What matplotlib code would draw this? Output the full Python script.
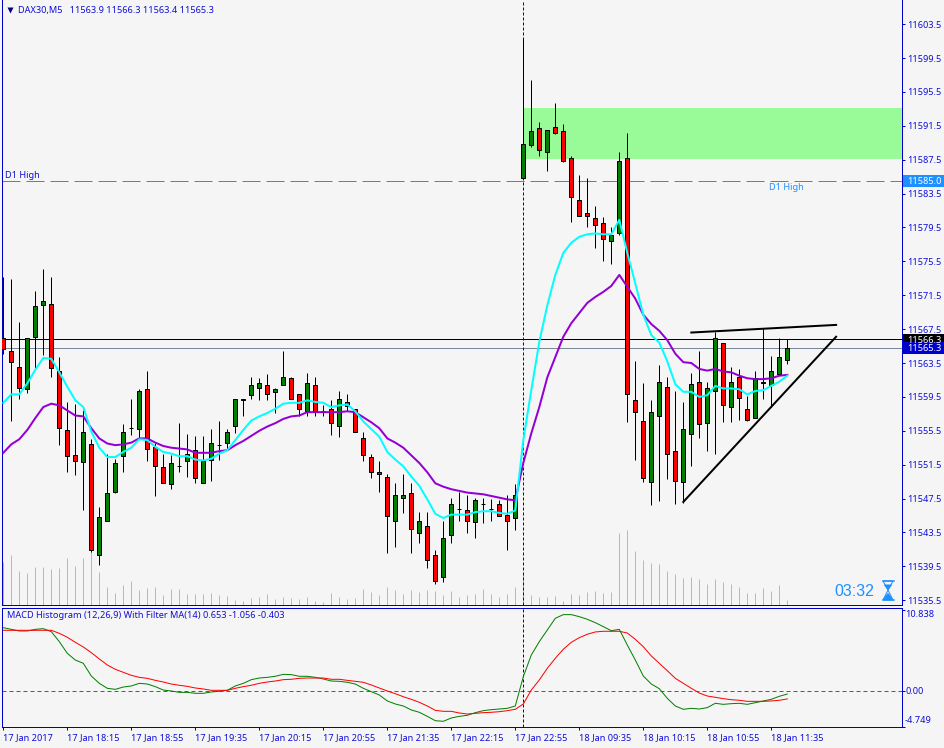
import matplotlib
matplotlib.use("Agg")
import matplotlib.pyplot as plt
from matplotlib import font_manager as fm
from matplotlib.ft2font import FT2Font
from matplotlib.patches import Rectangle, Polygon
from matplotlib.lines import Line2D

opens = [11566.4,11564.9,11563.0,11560.4,11566.6,11570.4,11570.5,11562.5,11555.6,11552.6,
11551.8,11553.9,11540.8,11544.9,11548.3,11552.5,11555.8,11555.7,11560.4,11553.6,
11551.2,11549.2,11551.3,11551.9,11553.2,11549.3,11552.1,11553.8,11554.1,11556.1,
11559.1,11559.7,11560.6,11560.9,11560.1,11560.9,11561.7,11559.8,11557.8,11560.9,
11557.8,11558.1,11556.1,11558.9,11558.1,11554.6,11552.4,11550.4,11550.1,11544.8,
11547.6,11548.1,11543.4,11544.3,11540.8,11538.2,11543.2,11546.3,11546.1,11544.7,
11546.8,11546.3,11546.8,11545.6,11545.2,11585.3,11589.2,11591.3,11588.4,11591.4,
11590.9,11587.7,11582.8,11581.2,11580.6,11580.0,11577.9,11578.8,11587.7,11559.1,
11556.7,11549.4,11557.3,11560.7,11553.1,11549.4,11555.1,11561.2,11556.4,11560.2,
11565.9,11558.3,11561.9,11558.1,11557.0,11561.3,11560.9,11562.2,11563.9]
closes = [11565.1,11563.6,11560.5,11566.4,11570.2,11570.8,11562.9,11555.8,11552.5,11551.9,
11555.4,11541.4,11545.3,11548.1,11551.7,11555.4,11555.8,11560.2,11553.3,11551.3,
11549.3,11551.7,11551.3,11552.8,11549.9,11551.9,11554.1,11553.8,11555.3,11559.3,
11559.3,11560.9,11561.1,11559.8,11560.4,11561.8,11559.3,11558.1,11561.1,11557.8,
11557.8,11556.4,11559.3,11558.4,11555.3,11552.6,11550.6,11550.6,11545.4,11547.9,
11547.9,11543.9,11544.8,11540.3,11537.8,11542.8,11546.8,11546.3,11544.8,11547.3,
11546.8,11546.3,11545.4,11544.8,11547.9,11589.4,11590.9,11588.7,11591.0,11590.6,
11587.4,11583.1,11580.9,11580.9,11579.8,11578.1,11578.6,11587.4,11559.8,11557.7,
11549.9,11557.7,11561.2,11552.8,11549.6,11555.7,11561.0,11556.3,11560.6,11566.4,
11558.5,11561.2,11559.4,11556.8,11561.7,11561.1,11562.6,11564.2,11565.3]
highs = [11573.7,11573.4,11568.3,11566.4,11572.0,11574.6,11573.7,11564.2,11558.9,11558.7,
11558.0,11554.5,11546.5,11552.7,11552.2,11556.3,11559.3,11560.4,11562.6,11554.1,
11552.8,11552.6,11556.4,11555.1,11554.9,11554.9,11555.7,11556.6,11555.7,11559.3,
11559.3,11561.8,11561.7,11562.2,11560.6,11564.9,11561.8,11559.8,11562.3,11561.8,
11558.5,11559.1,11560.2,11559.8,11558.1,11555.3,11552.8,11551.9,11550.4,11549.3,
11550.4,11549.3,11545.9,11545.9,11541.4,11544.8,11547.6,11548.3,11547.9,11547.6,
11547.6,11547.5,11547.3,11547.9,11549.2,11601.9,11596.9,11591.9,11591.0,11594.2,
11591.7,11587.9,11585.7,11585.3,11582.0,11580.7,11579.6,11588.4,11590.7,11563.7,
11561.1,11559.1,11563.3,11561.9,11560.2,11558.9,11562.3,11564.9,11561.2,11567.2,
11565.9,11563.0,11562.8,11559.6,11562.5,11567.6,11564.3,11566.4,11566.3]
lows = [11564.6,11556.6,11559.2,11560.0,11562.9,11564.4,11561.9,11553.8,11550.6,11550.3,
11546.1,11541.2,11539.7,11544.9,11548.1,11550.6,11555.0,11554.7,11551.9,11547.8,
11549.3,11548.6,11550.6,11550.0,11549.3,11549.3,11549.6,11552.1,11553.4,11555.2,
11557.3,11559.3,11559.1,11559.1,11557.6,11560.9,11559.3,11557.2,11557.3,11557.2,
11557.2,11555.0,11554.8,11557.8,11555.3,11551.9,11549.9,11548.3,11541.1,11541.8,
11545.8,11541.1,11542.3,11539.3,11537.4,11537.7,11542.3,11544.8,11543.4,11542.8,
11544.6,11544.8,11545.4,11541.4,11543.8,11585.3,11589.0,11587.9,11586.2,11590.5,
11587.2,11580.1,11580.9,11579.6,11577.1,11575.5,11575.2,11578.6,11556.5,11552.1,
11549.5,11546.7,11547.2,11549.8,11546.9,11547.0,11551.4,11554.7,11553.1,11552.7,
11556.5,11556.5,11556.8,11556.6,11557.0,11559.3,11558.3,11562.2,11563.4]
volumes = [43,50,34,32,38,38,36,37,47,39,47,55,33,18,12,20,24,15,17,18,10,16,16,11,11,11,12,10,9,5,4,7,8,11,
6,8,7,6,8,4,3,12,8,6,7,16,13,10,18,15,11,15,13,15,14,10,14,8,10,11,16,11,8,11,18,33,
10,8,8,9,4,11,10,13,14,12,13,
72,75,54,45,42,41,34,31,27,28,26,21,26,23,21,18,12,12,17,14,20,5]
ma_fast = [11558.8,11559.8,11559.8,11561.1,11562.7,11564.1,11564.0,11562.4,11560.7,11559.1,
11558.3,11555.4,11553.5,11552.4,11552.4,11553.0,11553.5,11554.5,11554.4,11553.6,
11553.0,11552.8,11552.5,11552.5,11552.1,11552.0,11552.2,11552.8,11553.2,11554.4,
11555.6,11556.7,11557.2,11557.6,11558.1,11558.7,11558.8,11558.8,11559.1,11558.9,
11558.8,11558.3,11558.5,11558.6,11557.8,11556.6,11555.7,11554.8,11553.0,11552.1,
11551.3,11550.1,11549.0,11547.4,11545.7,11545.2,11545.6,11545.6,11545.6,11545.9,
11546.0,11546.0,11545.8,11545.7,11546.1,11554.4,11560.3,11566.0,11570.3,11573.9,
11576.5,11577.7,11578.4,11578.7,11578.8,11578.7,11578.7,11580.4,11576.5,11572.9,
11569.2,11566.8,11565.9,11563.7,11561.0,11560.1,11560.1,11559.5,11559.7,11560.8,
11560.5,11560.5,11560.4,11559.8,11560.2,11560.3,11560.8,11561.3,11562.0]
ma_slow = [11552.9,11553.9,11554.5,11555.6,11557.0,11558.3,11558.7,11558.5,11557.9,11557.3,
11557.2,11555.8,11554.6,11554.0,11553.8,11553.9,11554.1,11554.6,11554.6,11554.1,
11553.7,11553.5,11553.4,11553.3,11552.9,11552.9,11552.9,11553.1,11553.2,11553.8,
11554.3,11554.9,11555.5,11556.0,11556.4,11556.9,11557.2,11557.3,11557.7,11557.7,
11557.7,11557.7,11557.7,11557.8,11557.7,11557.1,11556.5,11555.8,11554.6,11554.1,
11553.5,11552.6,11551.7,11550.6,11549.3,11548.9,11548.6,11548.4,11548.2,11548.1,
11548.0,11547.8,11547.6,11547.4,11547.3,11551.7,11555.2,11558.3,11561.8,11564.2,
11566.6,11568.2,11569.4,11570.6,11571.3,11571.9,11572.6,11573.9,11572.5,11571.1,
11569.2,11568.1,11567.3,11566.2,11564.6,11563.6,11563.5,11562.8,11562.6,11562.8,
11562.5,11562.4,11562.0,11561.7,11561.6,11561.6,11561.7,11562.0,11562.1]
macd_main = [8.44,8.22,8.0,8.0,8.22,8.31,7.91,6.58,5.02,4.13,3.69,2.0,1.02,0.36,0.22,0.53,0.67,1.02,0.93,0.58,
0.13,0.0,-0.18,-0.18,-0.31,-0.31,-0.13,-0.04,0.09,0.67,1.02,1.51,1.73,1.82,1.96,2.22,2.18,1.96,1.96,1.82,
1.6,1.33,1.29,1.16,0.93,0.36,-0.09,-0.53,-1.33,-1.73,-2.0,-2.53,-2.84,-3.38,-3.96,-4.04,-3.6,-3.38,-3.24,-2.89,
-2.62,-2.49,-2.4,-2.31,-2.0,1.91,4.8,6.58,8.13,9.69,10.18,10.18,9.91,9.56,9.11,8.58,8.04,8.22,6.13,4.13,
2.0,0.93,0.31,-0.98,-2.0,-2.44,-2.31,-2.4,-2.22,-1.64,-1.78,-1.69,-1.64,-1.78,-1.56,-1.33,-1.11,-0.71,-0.403]
macd_signal = [8.09,8.09,8.09,8.09,8.09,8.09,8.09,7.69,7.16,6.49,5.87,5.11,4.27,3.47,2.89,2.49,2.09,1.82,1.69,1.42,
1.2,0.93,0.76,0.62,0.4,0.27,0.09,0.09,0.09,0.36,0.58,0.76,1.02,1.2,1.33,1.51,1.56,1.69,1.73,1.73,
1.73,1.56,1.56,1.42,1.29,1.16,0.8,0.4,0.0,-0.36,-0.76,-1.11,-1.51,-2.0,-2.58,-2.71,-2.71,-2.93,-3.07,-2.98,
-2.89,-2.84,-2.76,-2.62,-2.44,-1.73,0.13,1.47,3.02,4.36,5.56,6.49,7.11,7.56,7.87,7.96,7.96,7.96,7.73,6.89,
5.91,4.67,3.69,2.71,1.69,1.02,0.36,-0.27,-0.67,-0.84,-1.02,-1.16,-1.24,-1.38,-1.38,-1.38,-1.33,-1.24,-1.056]
assert all(len(a) == 99 for a in [opens, closes, highs, lows, volumes, ma_fast, ma_slow, macd_main, macd_signal])

price_ticks = [11535.5 + 4 * k for k in range(18)]
date_tick_index = [0, 8, 16, 24, 32, 40, 48, 56, 64, 72, 80, 88, 96]
date_tick_labels = ["17 Jan 2017", "17 Jan 18:15", "17 Jan 18:55", "17 Jan 19:35", "17 Jan 20:15",
                    "17 Jan 20:55", "17 Jan 21:35", "17 Jan 22:15", "17 Jan 22:55", "18 Jan 09:35",
                    "18 Jan 10:15", "18 Jan 10:55", "18 Jan 11:35"]
macd_ticks = [10.838, 0.0, -4.749]
last_high, last_bid, d1_high = 11566.3, 11565.3, 11585.0
zone_low, zone_high, zone_start = 11587.6, 11593.6, 65
trend_low_x, trend_low_y = [85.0, 104.1], [11547.1, 11566.6]
trend_high_x, trend_high_y = [86.0, 104.1], [11567.1, 11568.0]

W, H = 944, 748
BG = "#F5F5F5"
BLUE = "#0000CC"
TXT = "#0E0ED8"
DODGER = "#1E90FF"
FONT = "Noto Sans"
FS = 6.6
PX = 0.72
THICK = 1.44
LEFT = 2.0
RIGHT = 901.7

fig = plt.figure(figsize=(W / 100, H / 100), dpi=100, facecolor=BG)
plt.rcParams["font.family"] = FONT

def fx(x): return x / W
def fy(y): return 1 - y / H
def axes_rect(x0, y0, x1, y1):
    return [fx(x0), fy(y1), fx(x1) - fx(x0), fy(y0) - fy(y1)]

XLIM = ((LEFT - 3.3) / 8, (RIGHT - 3.3) / 8)

# volume underlay
av = fig.add_axes(axes_rect(LEFT, 0, RIGHT, 605), zorder=0, facecolor=BG)
av.set_xlim(XLIM); av.set_ylim(0, 605); av.axis("off")
av.vlines(range(99), 0, volumes, color="#DDA0DD", lw=PX, snap=True, clip_on=False)

ax = fig.add_axes(axes_rect(LEFT, 0, RIGHT, 605), zorder=1)
ax.patch.set_alpha(0)
ax.set_xlim(XLIM)
ax.set_ylim(11534.93, 11606.36)
xs = list(range(99))

ax.add_patch(Rectangle((zone_start, zone_low), XLIM[1] - zone_start, zone_high - zone_low,
                       facecolor="#98FB98", edgecolor="none", zorder=0.5))
ax.axhline(last_high, color="black", lw=PX, zorder=1)
ax.axhline(last_bid, color="#778899", lw=PX, zorder=1)
ax.axhline(d1_high, color=DODGER, lw=PX, ls=(0, (18, 6)), zorder=1)

ax.vlines(xs, lows, highs, color="black", lw=PX, zorder=2, snap=True)
body_bottom = [min(o, c) for o, c in zip(opens, closes)]
body_height = [abs(o - c) for o, c in zip(opens, closes)]
body_color = ["#007F00" if c >= o else "#FF0000" for o, c in zip(opens, closes)]
ax.bar(xs, body_height, bottom=body_bottom, width=0.5, color=body_color,
       edgecolor="black", linewidth=PX, zorder=3)

ax.plot(xs, ma_slow, color="#9400D3", lw=THICK, zorder=4)
ax.plot(xs, ma_fast, color="#00FFFF", lw=THICK, zorder=4.1)
ax.plot(trend_low_x, trend_low_y, color="black", lw=THICK, zorder=5, clip_on=False)
ax.plot(trend_high_x, trend_high_y, color="black", lw=THICK, zorder=5, clip_on=False)
ax.axvline(zone_start, color=BLUE, lw=PX, ls=(0, (3, 2)), zorder=1.5)

ax.set_yticks(price_ticks)
ax.set_yticklabels([f"{p:.1f}" for p in price_ticks], fontsize=FS, color=TXT, family=FONT)
ax.yaxis.tick_right()
ax.tick_params(axis="y", length=1.8, width=PX, color=BLUE, pad=2.2)
ax.set_xticks([])
for s in ("left", "right", "bottom"):
    ax.spines[s].set_color(BLUE); ax.spines[s].set_linewidth(PX)
ax.spines["top"].set_visible(False)

# MACD panel
am = fig.add_axes(axes_rect(LEFT, 607.5, RIGHT, 727), facecolor=BG, zorder=1)
am.set_xlim(XLIM)
am.set_ylim(-4.8, 11.13)
am.axhline(0, color="#8A2BE2", lw=PX, ls=(0, (4, 3)), zorder=1)
am.axvline(zone_start, color=BLUE, lw=PX, ls=(0, (3, 2)), zorder=1)
am.plot(xs, macd_main, color="#008000", lw=PX, zorder=2)
am.plot(xs, macd_signal, color="#FF0000", lw=PX, zorder=3)
for s in ("left", "right", "bottom", "top"):
    am.spines[s].set_color(BLUE); am.spines[s].set_linewidth(PX)
am.yaxis.tick_right()
am.set_yticks(macd_ticks)
am.set_yticklabels([])
am.tick_params(axis="y", length=1.8, width=PX, color=BLUE)
am.set_xticks(date_tick_index)
am.set_xticklabels(date_tick_labels, fontsize=FS, color=TXT, family=FONT, ha="left")
am.tick_params(axis="x", length=2.2, width=PX, color=BLUE, pad=2.5)

def ftext(x, y, s, color=TXT, size=FS, ha="left", family=FONT, **kw):
    return fig.text(fx(x), fy(y), s, color=color, fontsize=size, ha=ha, va="center", family=family, zorder=10, **kw)

def price_box(price, y0, y1, face):
    fig.add_artist(Rectangle((fx(903), fy(y1)), fx(41), fy(y0) - fy(y1), transform=fig.transFigure,
                             facecolor=face, edgecolor="none", zorder=8))
    ftext(907.3, (y0 + y1) / 2, f"{price:.1f}", color="white")

price_box(last_high, 334, 346, "black")
price_box(last_bid, 342, 354, BLUE)
price_box(d1_high, 175, 187, DODGER)

ftext(905, 614.7, f"{macd_ticks[0]:.3f}")
ftext(905, 691, "0.00", fontweight="semibold")
ftext(905, 720.7, f"{macd_ticks[2]:.3f}")

fig.add_artist(Line2D([fx(9.5)], [fy(10)], marker="v", ms=4.2, color="#000080", mec="none", transform=fig.transFigure))
ftext(18.5, 10, "DAX30,M5   11563.9 11566.3 11563.4 11565.3")
ftext(7, 616, "MACD Histogram (12,26,9) With Filter MA(14) 0.653 -1.056 -0.403")
ftext(5, 175, "D1 High")
ftext(769, 188, "D1 High", color=DODGER)
ftext(834.5, 591, "03:32", color=DODGER, size=11.5, family="Liberation Sans")

# hourglass symbol: a real glyph when some installed family has it, otherwise a small shape
HOURGLASS = "\u231b"
glyph_family = None
for fam in ["DejaVu Sans", "Noto Sans CJK JP", "Noto Sans", "Liberation Sans", "Roboto", "Open Sans", "Lato", "Inter"]:
    try:
        path = fm.findfont(fam, fallback_to_default=False)
        if ord(HOURGLASS) in FT2Font(path).get_charmap():
            glyph_family = fam
            break
    except Exception:
        pass
if glyph_family:
    ftext(888, 590, HOURGLASS, color=DODGER, size=14, ha="center", family=glyph_family)
else:
    def pts(*p): return [(fx(a), fy(b)) for a, b in p]
    for shape, face in [(pts((883, 581), (893, 581), (888, 590)), "none"),
                        (pts((883, 600), (893, 600), (888, 590)), "none"),
                        (pts((884.5, 585), (891.5, 585), (888, 589.5)), DODGER),
                        (pts((883.5, 599.5), (892.5, 599.5), (888, 593.5)), DODGER)]:
        fig.add_artist(Polygon(shape, closed=True, transform=fig.transFigure, facecolor=face,
                               edgecolor=DODGER, linewidth=PX, zorder=9))
    for yy in (581, 600):
        fig.add_artist(Line2D([fx(882.5), fx(893.5)], [fy(yy), fy(yy)], color=DODGER, lw=1.5 * PX,
                              transform=fig.transFigure, zorder=9))

fig.savefig("out.png", dpi=100, facecolor=BG)
